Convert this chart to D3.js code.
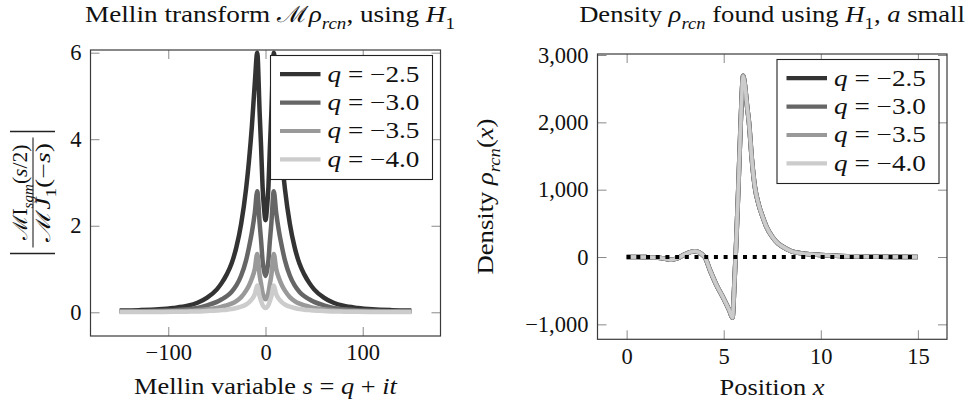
<!DOCTYPE html>
<html>
<head>
<meta charset="utf-8">
<script src="https://cdn.jsdelivr.net/npm/d3@7"></script>
<style>
  body { margin: 0; background: #fff; }
  svg text { font-family: 'Liberation Serif', 'DejaVu Serif', serif; fill: #111; }
</style>
</head>
<body>
<svg width="973" height="403"></svg>
<script>
// ---- left panel: |M I_sgm(s/2) / M J_1(-s)| against t, s = q + it
const mellinT = [-150, -130, -110, -95, -80, -70, -60, -50, -45, -40, -35, -30, -25, -20, -17, -14, -11, -8.5, -6, -4.5, -3, -1.5,
    0, 1.5, 3, 4.5, 6, 8.5, 11, 14, 17, 20, 25, 30, 35, 40, 45, 50, 60, 70, 80, 95, 110, 130, 150];
const mellinQ25 = [0.04, 0.05, 0.07, 0.1, 0.15, 0.22, 0.34, 0.53, 0.68, 0.87, 1.12, 1.5, 2.05, 2.85, 3.5, 4.3, 5.3, 6.0, 4.6, 3.8, 2.9, 2.4,
    2.13, 2.4, 2.9, 3.8, 4.6, 6.0, 5.3, 4.3, 3.5, 2.85, 2.05, 1.5, 1.12, 0.87, 0.68, 0.53, 0.34, 0.22, 0.15, 0.1, 0.07, 0.05, 0.04];
const mellinQ30 = [0.02, 0.025, 0.035, 0.05, 0.07, 0.1, 0.16, 0.24, 0.3, 0.37, 0.47, 0.62, 0.85, 1.2, 1.5, 1.85, 2.3, 2.8, 2.05, 1.65, 1.2, 0.95,
    0.84, 0.95, 1.2, 1.65, 2.05, 2.8, 2.3, 1.85, 1.5, 1.2, 0.85, 0.62, 0.47, 0.37, 0.3, 0.24, 0.16, 0.1, 0.07, 0.05, 0.035, 0.025, 0.02];
const mellinQ35 = [0.01, 0.012, 0.018, 0.025, 0.035, 0.05, 0.07, 0.1, 0.13, 0.16, 0.2, 0.26, 0.35, 0.5, 0.62, 0.78, 1.0, 1.35, 0.85, 0.65, 0.45, 0.34,
    0.3, 0.34, 0.45, 0.65, 0.85, 1.35, 1.0, 0.78, 0.62, 0.5, 0.35, 0.26, 0.2, 0.16, 0.13, 0.1, 0.07, 0.05, 0.035, 0.025, 0.018, 0.012, 0.01];
const mellinQ40 = [0.005, 0.006, 0.008, 0.01, 0.015, 0.02, 0.03, 0.04, 0.05, 0.06, 0.075, 0.1, 0.13, 0.18, 0.23, 0.3, 0.42, 0.62, 0.36, 0.26, 0.17, 0.12,
    0.1, 0.12, 0.17, 0.26, 0.36, 0.62, 0.42, 0.3, 0.23, 0.18, 0.13, 0.1, 0.075, 0.06, 0.05, 0.04, 0.03, 0.02, 0.015, 0.01, 0.008, 0.006, 0.005];
const mellinXTicks = [-100, 0, 100];
const mellinYTicks = [0, 2, 4, 6];

// ---- right panel: density, the four q curves lie on top of each other
const densityX = [0, 0.5, 1, 1.5, 2, 2.3, 2.6, 3.0, 3.5, 4.0, 4.3, 4.6, 5.0, 5.3, 5.45, 5.55, 5.65, 5.75, 5.85, 5.93,
    6.0, 6.08, 6.2, 6.3, 6.45, 6.6, 6.8, 7.0, 7.2, 7.5, 7.8, 8.0, 8.5, 9, 9.5, 10, 11, 12, 13, 14, 15];
const densityQ = [0, 0, -2, -8, -25, -40, -20, 40, 85, 10, -200, -400, -620, -800, -900, -400, 250, 1000, 1800, 2400,
    2690, 2580, 2250, 2000, 1450, 1050, 780, 600, 450, 300, 200, 160, 85, 55, 40, 30, 15, 8, 4, 2, 0];
const zeroLineX = [0, 15];
const zeroLineY = [0, 0];
const densityXTicks = [0, 5, 10, 15];
const densityYTicks = [-1000, 0, 1000, 2000, 3000];

const qLabels = ['\u22122.5', '\u22123.0', '\u22123.5', '\u22124.0'];
const qColors = ['#333333', '#666666', '#999999', '#cccccc'];

const svg = d3.select('svg');
svg.append('rect').attr('width', 973).attr('height', 403).attr('fill', '#fff');

const FS = 22.5;

// write a line of "math": parts are {t, i (italic), sub}
const mathText = (text, parts, size) => {
    let inSub = false;
    parts.forEach(p => {
        const ts = text.append('tspan').text(p.t);
        if (p.i) ts.attr('font-style', 'italic');
        if (p.sub) {
            ts.attr('font-size', size * 0.7);
            if (!inSub) ts.attr('dy', size * 0.3);
        } else if (inSub) {
            ts.attr('dy', -size * 0.3);
        }
        inSub = !!p.sub;
    });
    return text;
};

// Computer Modern sets wider than Liberation Serif: stretch a text to the width seen in the picture
const stretchTo = (text, width, base) => {
    const w = text.node().getBBox().width;
    const k = width / w;
    const prev = text.attr('transform') || '';
    text.attr('transform', `${prev} translate(${base},0) scale(${k},1) translate(${-base},0)`);
    return text;
};

const drawPanel = (box, xDomain, yDomain, xTicks, yTicks, yFormat) => {
    const xScale = d3.scaleLinear().domain(xDomain).range([box.x0, box.x1]);
    const yScale = d3.scaleLinear().domain(yDomain).range([box.y1, box.y0]);
    const g = svg.append('g');

    // AXES (ticks point inward on all four sides)
    const styleAxis = a => {
        a.select('.domain').remove();
        a.selectAll('line').attr('stroke', '#8a8a8a').attr('stroke-width', 1);
        a.selectAll('text').attr('font-size', FS).attr('fill', '#111');
        a.attr('font-family', null).attr('font-size', null);
    };
    g.append('g').attr('transform', `translate(0,${box.y1})`)
        .call(d3.axisBottom(xScale).tickValues(xTicks).tickSizeInner(-9).tickSizeOuter(0).tickPadding(8.5))
        .call(styleAxis);
    g.append('g').attr('transform', `translate(0,${box.y0})`)
        .call(d3.axisTop(xScale).tickValues(xTicks).tickSizeInner(-9).tickSizeOuter(0).tickFormat(''))
        .call(styleAxis);
    g.append('g').attr('transform', `translate(${box.x0},0)`)
        .call(d3.axisLeft(yScale).tickValues(yTicks).tickSizeInner(-9).tickSizeOuter(0).tickPadding(9).tickFormat(yFormat))
        .call(styleAxis);
    g.append('g').attr('transform', `translate(${box.x1},0)`)
        .call(d3.axisRight(yScale).tickValues(yTicks).tickSizeInner(-9).tickSizeOuter(0).tickFormat(''))
        .call(styleAxis);

    return { g, xScale, yScale };
};

const drawFrame = box => {
    svg.append('rect')
        .attr('x', box.x0).attr('y', box.y0)
        .attr('width', box.x1 - box.x0).attr('height', box.y1 - box.y0)
        .attr('fill', 'none').attr('stroke', '#3a3a3a').attr('stroke-width', 1.2);
};

const drawLegend = box => {
    const w = 162, h = 124;
    const lx = box.x1 - 8 - w, ly = box.y0 + 5.5;
    const lg = svg.append('g').attr('transform', `translate(${lx},${ly})`);
    lg.append('rect').attr('width', w).attr('height', h)
        .attr('fill', '#fff').attr('stroke', '#222').attr('stroke-width', 1.1);
    qLabels.forEach((lab, i) => {
        const y = 18.7 + i * 28.4;
        lg.append('line').attr('x1', 9.5).attr('x2', 50).attr('y1', y).attr('y2', y)
            .attr('stroke', qColors[i]).attr('stroke-width', 4.2);
        const t = mathText(lg.append('text').attr('x', 57).attr('y', y + 7.5).attr('font-size', FS),
            [{ t: 'q', i: true }, { t: ' = ' + lab }], FS);
        stretchTo(t, 92, 57);
    });
};

// ================= LEFT PANEL =================
const leftBox = { x0: 90.5, x1: 440.5, y0: 50, y1: 336 };
const left = drawPanel(leftBox, [-180, 180], [-0.548, 6.062], mellinXTicks, mellinYTicks, d3.format('d'));
const mellinSeries = [mellinQ25, mellinQ30, mellinQ35, mellinQ40];
const mellinLine = d3.line()
    .x(d => left.xScale(d[0]))
    .y(d => left.yScale(d[1]))
    .curve(d3.curveMonotoneX);
mellinSeries.forEach((vals, i) => {
    left.g.append('path')
        .datum(mellinT.map((t, k) => [t, vals[k]]))
        .attr('d', mellinLine)
        .attr('fill', 'none')
        .attr('stroke', qColors[i])
        .attr('stroke-width', 4.5)
        .attr('stroke-linejoin', 'round');
});
drawFrame(leftBox);
drawLegend(leftBox);

stretchTo(mathText(svg.append('text').attr('x', 270).attr('y', 22).attr('text-anchor', 'middle').attr('font-size', FS),
    [{ t: 'Mellin transform ' }, { t: '\u2133' }, { t: '\u03c1', i: true }, { t: 'rcn', i: true, sub: true },
     { t: ', using ' }, { t: 'H', i: true }, { t: '1', sub: true }], FS), 370, 270);
stretchTo(mathText(svg.append('text').attr('x', 265.5).attr('y', 394).attr('text-anchor', 'middle').attr('font-size', FS),
    [{ t: 'Mellin variable ' }, { t: 's', i: true }, { t: ' = ' }, { t: 'q', i: true }, { t: ' + ' }, { t: 'it', i: true }], FS), 264, 265.5);

// y label: | M I_sgm(s/2) / M J_1(-s) |
const fracG = svg.append('g').attr('transform', 'translate(33,192.5) rotate(-90)');
const FF = 20;
stretchTo(mathText(fracG.append('text').attr('x', 0).attr('y', -6).attr('text-anchor', 'middle').attr('font-size', FF),
    [{ t: '\u2133I' }, { t: 'sgm', i: true, sub: true }, { t: '(' }, { t: 's', i: true }, { t: '/2)' }], FF), 97, 0);
stretchTo(mathText(fracG.append('text').attr('x', 0).attr('y', 17).attr('text-anchor', 'middle').attr('font-size', FF),
    [{ t: '\u2133' }, { t: 'J', i: true }, { t: '1', sub: true }, { t: '(\u2212' }, { t: 's', i: true }, { t: ')' }], FF), 100, 0);
fracG.append('line').attr('x1', -55).attr('x2', 55).attr('y1', 0).attr('y2', 0).attr('stroke', '#222').attr('stroke-width', 1.1);
[-61, 61].forEach(u => {
    fracG.append('line').attr('x1', u).attr('x2', u).attr('y1', -23).attr('y2', 22).attr('stroke', '#222').attr('stroke-width', 1.3);
});

// ================= RIGHT PANEL =================
const rightBox = { x0: 597.5, x1: 947, y0: 54, y1: 339.3 };
const right = drawPanel(rightBox, [-1.5, 16.5], [-1222, 3015], densityXTicks, densityYTicks, d3.format(','));
const densityLine = d3.line()
    .x(d => right.xScale(d[0]))
    .y(d => right.yScale(d[1]))
    .curve(d3.curveMonotoneX);
const densitySeries = [densityQ, densityQ, densityQ, densityQ];
densitySeries.forEach((vals, i) => {
    right.g.append('path')
        .datum(densityX.map((x, k) => [x, vals[k]]))
        .attr('d', densityLine)
        .attr('fill', 'none')
        .attr('stroke', qColors[i])
        .attr('stroke-width', i === 3 ? 3.4 : 4.6)
        .attr('stroke-linejoin', 'round');
});
right.g.append('path')
    .datum(zeroLineX.map((x, k) => [x, zeroLineY[k]]))
    .attr('d', d3.line().x(d => right.xScale(d[0])).y(d => right.yScale(d[1])))
    .attr('fill', 'none')
    .attr('stroke', '#000')
    .attr('stroke-width', 4)
    .attr('stroke-dasharray', '4,5.7');
drawFrame(rightBox);
drawLegend(rightBox);

stretchTo(mathText(svg.append('text').attr('x', 772).attr('y', 22).attr('text-anchor', 'middle').attr('font-size', FS),
    [{ t: 'Density ' }, { t: '\u03c1', i: true }, { t: 'rcn', i: true, sub: true }, { t: ' found using ' },
     { t: 'H', i: true }, { t: '1', sub: true }, { t: ', ' }, { t: 'a', i: true }, { t: ' small' }], FS), 386, 772);
stretchTo(mathText(svg.append('text').attr('x', 772).attr('y', 395).attr('text-anchor', 'middle').attr('font-size', FS),
    [{ t: 'Position ' }, { t: 'x', i: true }], FS), 105, 772);
stretchTo(mathText(svg.append('text').attr('transform', 'translate(493,196.5) rotate(-90)').attr('text-anchor', 'middle').attr('font-size', FS),
    [{ t: 'Density ' }, { t: '\u03c1', i: true }, { t: 'rcn', i: true, sub: true }, { t: '(' }, { t: 'x', i: true }, { t: ')' }], FS), 156, 0);
</script>
</body>
</html>
